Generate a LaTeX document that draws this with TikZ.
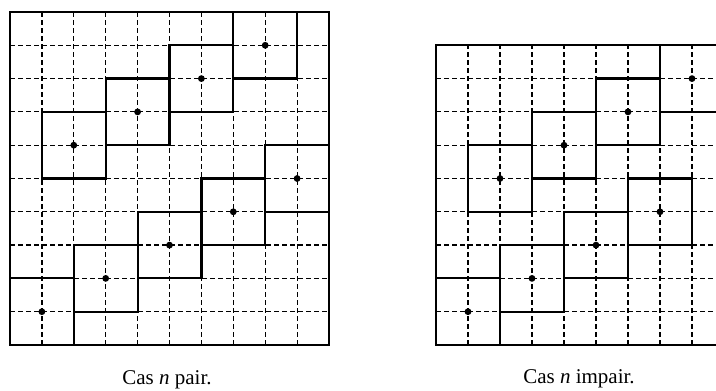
\documentclass[tikz,border=0pt]{standalone}
\usepackage{fontspec}
\setmainfont{Liberation Serif}
\begin{document}
\begin{tikzpicture}[x=1pt,y=1pt,
  gridline/.style={line width=1.2pt, dash pattern=on 5pt off 3pt},
  frame/.style={line width=2.2pt},
  tile/.style={line width=2.2pt, line join=miter},
  caption/.style={anchor=base, font=\fontsize{21}{25}\selectfont}]
\useasboundingbox (0,0) rectangle (716,391);
\clip (0,0) rectangle (716,391);

% board for even n: 10 x 10 cells, nine 2x2 tiles
\begin{scope}[shift={(10,46)}, x=31.9pt, y=33.3pt]
  \foreach \k in {1,...,9} {
    \draw[gridline] (\k,0) -- (\k,10);
    \draw[gridline] (0,\k) -- (10,\k);
  }
  \draw[frame] (0,0) rectangle (10,10);
  \foreach \a/\b in {1/5,3/6,5/7,7/8,8/4,6/3,4/2,2/1,0/0} {
    \draw[tile] (\a,\b) rectangle ++(2,2);
    \fill (\a+1,\b+1) circle[radius=3.4pt];
  }
\end{scope}
\node[caption] (even) at (167,6) {Cas \textit{n} pair.};

% board for odd n: 9 x 9 cells, eight 2x2 tiles
\begin{scope}[shift={(436,46)}, x=32pt, y=33.3pt]
  \foreach \k in {1,...,8} {
    \draw[gridline] (\k,0) -- (\k,9);
    \draw[gridline] (0,\k) -- (9,\k);
  }
  \draw[frame] (0,0) rectangle (9,9);
  \foreach \a/\b in {1/4,3/5,5/6,7/7,6/3,4/2,2/1,0/0} {
    \draw[tile] (\a,\b) rectangle ++(2,2);
    \fill (\a+1,\b+1) circle[radius=3.4pt];
  }
\end{scope}
\node[caption] (odd) at (579,7) {Cas \textit{n} impair.};
\end{tikzpicture}
\end{document}
